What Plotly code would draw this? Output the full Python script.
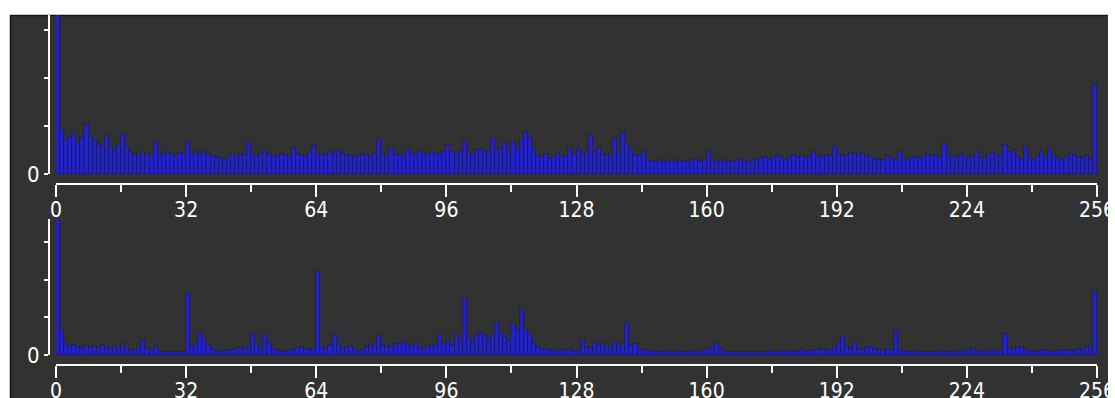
import plotly.graph_objects as go

W, H = 1115, 398

bins = list(range(256))

top_counts = [
    5000, 920, 700, 780, 850, 640, 780, 1050, 800, 680, 620, 560, 800, 560, 500, 620, 830, 560, 450, 420,
    400, 450, 380, 420, 670, 430, 400, 460, 420, 380, 440, 430, 670, 420, 460, 400, 450, 420, 380, 350,
    330, 300, 360, 410, 380, 420, 390, 640, 400, 370, 420, 470, 410, 380, 360, 420, 400, 380, 540, 420,
    400, 380, 450, 600, 420, 400, 390, 460, 440, 480, 430, 380, 400, 360, 380, 420, 400, 380, 410, 720,
    420, 380, 540, 400, 420, 380, 520, 440, 410, 480, 430, 400, 460, 420, 440, 470, 610, 450, 420, 480,
    680, 460, 420, 500, 520, 470, 460, 760, 500, 540, 650, 480, 660, 520, 720, 880, 780, 520, 380, 360,
    420, 330, 360, 420, 360, 380, 540, 420, 530, 420, 460, 810, 450, 540, 400, 420, 380, 740, 420, 850,
    620, 510, 400, 380, 470, 300, 280, 260, 300, 250, 270, 290, 260, 300, 280, 250, 290, 310, 280, 300,
    460, 290, 260, 280, 300, 250, 270, 290, 310, 280, 260, 300, 320, 340, 360, 320, 350, 380, 340, 310,
    360, 390, 350, 370, 340, 380, 450, 360, 380, 400, 390, 570, 420, 400, 380, 440, 420, 410, 430, 380,
    350, 290, 320, 300, 380, 340, 300, 450, 330, 310, 340, 360, 330, 370, 420, 380, 400, 360, 620, 400,
    380, 350, 420, 380, 340, 370, 460, 330, 360, 400, 440, 380, 400, 600, 460, 500, 350, 320, 570, 360,
    300, 380, 460, 340, 520, 380, 330, 300, 360, 420, 400, 360, 330, 380, 320, 1850,
]

bottom_counts = [
    5000, 660, 300, 250, 260, 220, 180, 230, 200, 240, 180, 260, 200, 170, 240, 190, 300, 180, 130, 120,
    200, 380, 180, 120, 220, 110, 80, 70, 70, 80, 70, 80, 1650, 220, 300, 620, 460, 260, 150, 100,
    90, 130, 140, 120, 180, 200, 160, 200, 570, 300, 180, 520, 320, 160, 120, 90, 100, 130, 140, 180,
    200, 160, 140, 180, 2200, 200, 150, 260, 520, 300, 180, 200, 240, 150, 110, 130, 200, 260, 300, 500,
    260, 220, 250, 280, 300, 360, 260, 240, 320, 200, 160, 240, 200, 260, 520, 300, 360, 260, 560, 400,
    1500, 480, 300, 520, 580, 540, 400, 560, 860, 600, 480, 380, 820, 700, 1230, 660, 560, 320, 200, 160,
    150, 120, 140, 110, 120, 100, 150, 100, 120, 400, 200, 180, 350, 260, 300, 180, 200, 350, 220, 300,
    840, 260, 280, 150, 120, 100, 90, 100, 80, 90, 100, 80, 90, 110, 90, 80, 100, 90, 110, 120,
    160, 200, 310, 150, 80, 90, 80, 70, 80, 90, 70, 80, 70, 80, 90, 100, 80, 90, 100, 110,
    100, 90, 100, 120, 110, 100, 120, 140, 150, 130, 120, 200, 300, 490, 200, 180, 350, 160, 140, 200,
    220, 160, 120, 140, 160, 120, 660, 140, 100, 90, 80, 100, 90, 80, 70, 90, 80, 100, 90, 80,
    100, 90, 110, 100, 120, 180, 100, 90, 110, 100, 120, 110, 130, 550, 160, 150, 200, 220, 120, 100,
    110, 90, 140, 120, 100, 90, 110, 130, 120, 100, 130, 150, 140, 200, 220, 1680,
]

x_major = list(range(0, 257, 32))
x_minor = list(range(16, 257, 32))
y_ticks = [0, 1000, 2000, 3000]
y_text = ["0", "", "", ""]

BAR = "#2424c0"
EDGE = "#17177c"
BG = "#323232"
FONT = "DejaVu Sans Condensed, Liberation Sans Narrow, sans-serif"

def px(x):
    return x / W

def py(y):
    return 1 - y / H

fig = go.Figure()
fig.add_trace(go.Bar(x=[b + 0.5 for b in bins], y=top_counts, width=1,
                     marker=dict(color=BAR, line=dict(color=EDGE, width=0.8)),
                     xaxis="x", yaxis="y", showlegend=False, hoverinfo="skip"))
fig.add_trace(go.Bar(x=[b + 0.5 for b in bins], y=bottom_counts, width=1,
                     marker=dict(color=BAR, line=dict(color=EDGE, width=0.8)),
                     xaxis="x2", yaxis="y2", showlegend=False, hoverinfo="skip"))

def xaxis_cfg(pos_px):
    return dict(
        domain=[px(56), px(1097)], range=[0, 256], anchor="free", position=py(pos_px),
        automargin=False,
        showline=True, linecolor="white", linewidth=2, showgrid=False, zeroline=False,
        tickmode="array", tickvals=x_major, ticktext=[str(v) for v in x_major],
        ticks="outside", ticklen=12, tickwidth=2, tickcolor="white",
        minor=dict(tickvals=x_minor, ticks="outside", ticklen=7, tickwidth=2, tickcolor="white", showgrid=False),
        tickfont=dict(family=FONT, size=21, color="white"),
        ticklabeloverflow="allow", ticklabelstandoff=-5,
    )

def yaxis_cfg(top_px, bot_px, unit_px):
    return dict(
        domain=[py(bot_px), py(top_px)], range=[0, (bot_px - top_px) / unit_px * 1000],
        anchor="free", position=px(49), automargin=False,
        showline=True, linecolor="white", linewidth=2, showgrid=False, zeroline=False,
        tickmode="array", tickvals=y_ticks, ticktext=y_text,
        ticks="outside", ticklen=4, tickwidth=2, tickcolor="white",
        tickfont=dict(family=FONT, size=22, color="white"),
    )

frame_shapes = [
    dict(type="rect", xref="paper", yref="paper", x0=0, x1=1, y0=py(15), y1=1,
         fillcolor="white", line=dict(width=0), layer="below"),
    dict(type="rect", xref="paper", yref="paper", x0=0, x1=px(10), y0=0, y1=1,
         fillcolor="white", line=dict(width=0), layer="below"),
    dict(type="rect", xref="paper", yref="paper", x0=px(1108), x1=1, y0=0, y1=1,
         fillcolor="white", line=dict(width=0), layer="above"),
    dict(type="line", xref="paper", yref="paper", x0=px(10), x1=px(1108), y0=py(15.5), y1=py(15.5),
         line=dict(color="#161616", width=1.5), layer="below"),
    dict(type="line", xref="paper", yref="paper", x0=px(10.5), x1=px(10.5), y0=0, y1=py(15),
         line=dict(color="#161616", width=1.5), layer="below"),
]

fig.update_layout(
    width=W, height=H, margin=dict(l=0, r=0, t=0, b=0, autoexpand=False),
    paper_bgcolor=BG, plot_bgcolor=BG,
    bargap=0,
    xaxis=xaxis_cfg(184),
    yaxis=yaxis_cfg(15, 174, 48),
    xaxis2=xaxis_cfg(365),
    yaxis2=yaxis_cfg(219, 355, 37.7),
    shapes=frame_shapes,
)

fig.write_html("out.html",
               config={"displayModeBar": False, "responsive": False},
               post_script="document.documentElement.style.margin='0';document.body.style.margin='0';"
                           "document.body.style.padding='0';document.body.style.overflow='hidden';")
